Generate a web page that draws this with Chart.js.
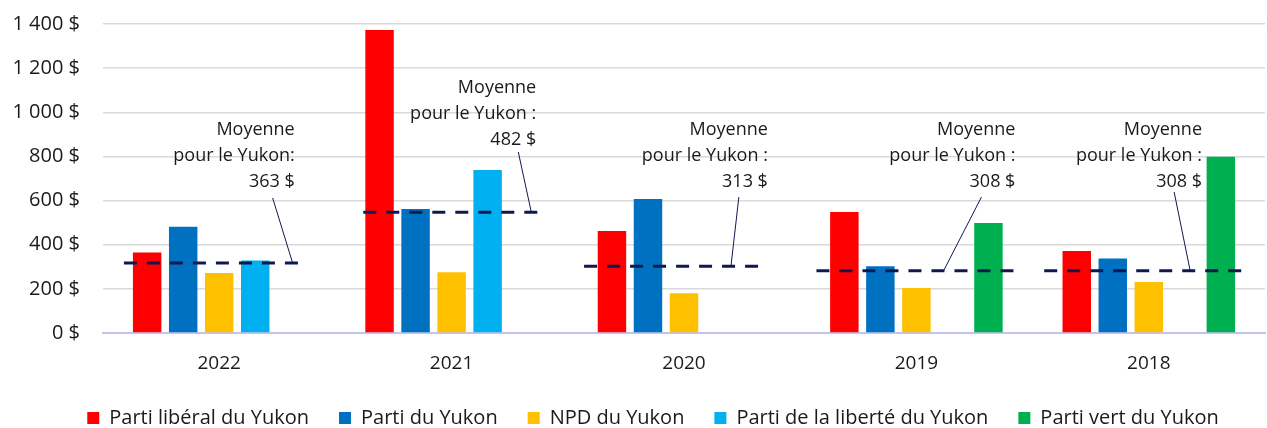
<!DOCTYPE html>
<html lang="fr">
<head>
<meta charset="UTF-8">
<title>Moyenne des contributions</title>
<script src="https://cdn.jsdelivr.net/npm/chart.js"></script>
<style>
  html, body { margin: 0; padding: 0; background: #fff; }
  #wrap { width: 1267px; height: 428px; }
</style>
</head>
<body>
<div id="wrap"><canvas id="chart" width="1267" height="428"></canvas></div>
<script>
const years = ['2022', '2021', '2020', '2019', '2018'];
const liberal = [365, 1373, 462, 548, 371];
const yukonParty = [481, 562, 607, 302, 337];
const ndp = [272, 275, 180, 204, 231];
const freedom = [329, 738, null, null, null];
const greens = [null, null, null, 498, 799];

// dashed average lines, as drawn (height, and span in category units)
const avgHeight = [317, 547, 302, 282, 282];
const avgFrom = [-0.41, 0.62, 1.57, 2.57, 3.55];
const avgTo = [0.35, 1.38, 2.33, 3.43, 4.41];

// callout texts
const avgLine1 = ['Moyenne', 'Moyenne', 'Moyenne', 'Moyenne', 'Moyenne'];
const avgLine2 = ['pour le Yukon:', 'pour le Yukon :', 'pour le Yukon :', 'pour le Yukon :', 'pour le Yukon :'];
const avgValue = ['363 $', '482 $', '313 $', '308 $', '308 $'];
// callout anchor: right edge of text, first line centre (y value), leader start
const noteRight = [0.325, 1.364, 2.361, 3.426, 4.229];
const noteTop = [920, 1110, 920, 920, 920];
const leaderX1 = [0.23, 1.287, 2.236, 3.28, 4.109];
const leaderY1 = [612, 820, 616, 616, 639];
const leaderX2 = [0.316, 1.343, 2.202, 3.117, 4.178];

const FONT = 'Open Sans';
const navy = '#101850';
const textColor = '#1a1a1a';

const calloutPlugin = {
  id: 'callouts',
  afterLayout(chart) {
    // legend sits a little right of centre in the original
    chart.legend.left += 18;
    chart.legend.right += 18;
  },
  afterDatasetsDraw(chart) {
    const ctx = chart.ctx;
    const xs = chart.scales.x, ys = chart.scales.y;
    const x0 = xs.getPixelForValue(0);
    const step = xs.getPixelForValue(1) - x0;
    const px = v => x0 + v * step;
    ctx.save();
    years.forEach((y, i) => {
      // dashed average line
      const ay = ys.getPixelForValue(avgHeight[i]);
      ctx.strokeStyle = navy;
      ctx.lineWidth = 3;
      ctx.setLineDash([13, 10]);
      ctx.beginPath();
      ctx.moveTo(px(avgFrom[i]), ay);
      ctx.lineTo(px(avgTo[i]), ay);
      ctx.stroke();
      // leader
      ctx.setLineDash([]);
      ctx.lineWidth = 1;
      ctx.beginPath();
      ctx.moveTo(px(leaderX1[i]), ys.getPixelForValue(leaderY1[i]));
      ctx.lineTo(px(leaderX2[i]), ay);
      ctx.stroke();
      // text
      ctx.fillStyle = textColor;
      ctx.font = '18px "' + FONT + '"';
      ctx.textAlign = 'right';
      ctx.textBaseline = 'middle';
      const rx = px(noteRight[i]);
      const ty = ys.getPixelForValue(noteTop[i]);
      ctx.fillText(avgLine1[i], rx, ty);
      ctx.fillText(avgLine2[i], rx, ty + 26);
      ctx.fillText(avgValue[i], rx, ty + 52);
    });
    ctx.restore();
  }
};

const barDefaults = { categoryPercentage: 0.775, barPercentage: 0.79 };

new Chart(document.getElementById('chart'), {
  type: 'bar',
  data: {
    labels: years,
    datasets: [
      { label: 'Parti libéral du Yukon', data: liberal, backgroundColor: '#ff0000', ...barDefaults },
      { label: 'Parti du Yukon', data: yukonParty, backgroundColor: '#0070c0', ...barDefaults },
      { label: 'NPD du Yukon', data: ndp, backgroundColor: '#ffc000', ...barDefaults },
      { label: 'Parti de la liberté du Yukon', data: freedom, backgroundColor: '#00b0f0', ...barDefaults },
      { label: 'Parti vert du Yukon', data: greens, backgroundColor: '#00b050', ...barDefaults }
    ]
  },
  options: {
    responsive: false,
    animation: false,
    layout: { padding: { top: 0, left: 5, right: 2, bottom: -10 } },
    plugins: {
      tooltip: { enabled: false },
      legend: {
        position: 'bottom',
        labels: {
          boxWidth: 12, boxHeight: 12, padding: 30,
          color: textColor,
          font: { family: FONT, size: 20 }
        }
      }
    },
    scales: {
      x: {
        afterFit: s => { s.height = 45; },
        grid: { display: false, drawTicks: false },
        border: { display: true, color: '#c3c3f2', width: 2 },
        ticks: { color: textColor, padding: 19, font: { family: FONT, size: 19 } }
      },
      y: {
        min: 0, max: 1400,
        afterFit: s => { s.width = 98; s.paddingTop = 24; s.paddingBottom = 0; },
        border: { display: false },
        grid: {
          drawTicks: false, lineWidth: 1.5,
          color: c => c.tick && c.tick.value === 0 ? 'rgba(0,0,0,0)' : '#d9d9d9'
        },
        ticks: {
          stepSize: 200, padding: 23, color: textColor,
          font: { family: FONT, size: 20 },
          callback: v => String(v).replace(/\B(?=(\d{3})+(?!\d))/g, ' ') + ' $'
        }
      }
    }
  },
  plugins: [calloutPlugin]
});
</script>
</body>
</html>
